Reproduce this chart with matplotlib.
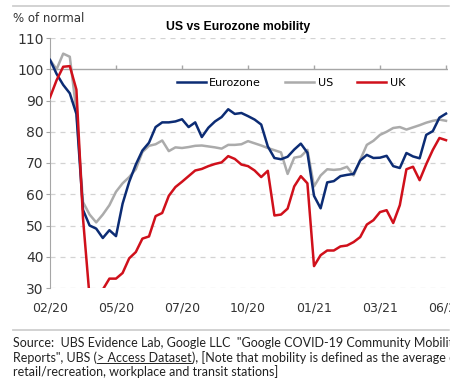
import numpy as np
import matplotlib
matplotlib.use("Agg")
import matplotlib.pyplot as plt
from matplotlib.lines import Line2D
from matplotlib.patches import Rectangle

# observation index (every 2nd trading day), tick every 20
idx = np.arange(0, 121, 2)
tick_pos = [0, 20, 40, 60, 80, 100, 120]
tick_lbl = ["02/20", "05/20", "07/20", "10/20", "01/21", "03/21", "06/21"]

eurozone = [103, 98.5, 95, 92.3, 85.7, 55, 50, 49, 46, 48.5,
            46.6, 57, 64, 69.5, 74, 76.5, 81.5, 83, 83, 83.3,
            84, 81.5, 83, 78.3, 81.3, 83.3, 84.7, 87.2, 85.7, 86,
            85, 83.9, 82.3, 75.3, 71.6, 71.2, 72, 74.3, 76.2, 73.3,
            59.5, 55.5, 63.8, 64.2, 65.8, 66.2, 66.5, 70.8, 72.6, 71.6,
            71.7, 72.3, 69, 68.4, 73.2, 72.1, 71.5, 79, 80.2, 84.5,
            85.8]
us = [103, 100, 105, 104, 86.5, 57.5, 53.5, 51, 53.5, 56.5,
      60.8, 63.5, 65.5, 68, 73.5, 75.5, 76, 77.2, 73.8, 75,
      74.8, 75.1, 75.5, 75.6, 75.3, 75, 74.6, 75.8, 75.8, 76,
      77, 76.3, 75.6, 74.8, 74.1, 73.4, 66.5, 71.7, 72.1, 74.2,
      62.5, 66, 68, 67.8, 68, 68.8, 66, 71, 75.8, 77.1,
      79, 80, 81.2, 81.5, 80.7, 81.4, 82.1, 82.9, 83.5, 83.9,
      83.5]
uk = [91, 96.5, 100.8, 101, 93.5, 52.3, 27, 24, 29.5, 33,
      33, 34.8, 39.5, 41.5, 45.8, 46.5, 53, 54, 59.5, 62.3,
      64, 65.8, 67.6, 68.1, 69, 69.7, 70.2, 72.2, 71.3, 69.5,
      69, 67.6, 65.5, 67.5, 53.2, 53.5, 55.4, 62.5, 65.8, 63.5,
      37, 40.5, 42, 42, 43.3, 43.6, 44.7, 46.3, 50.3, 51.7,
      54.3, 54.9, 50.8, 56.5, 68, 68.8, 64.5, 69.6, 74.2, 78,
      77.3]

W, H = 468, 382
fig = plt.figure(figsize=(W / 100, H / 100), dpi=100)
ax = fig.add_axes([50 / W, 1 - 288 / H, 398 / W, 250 / H])

c_ez, c_us, c_uk = "#0c2c74", "#ababab", "#d0101b"
l_us, = ax.plot(idx, us, color=c_us, lw=1.8, zorder=3)
l_ez, = ax.plot(idx, eurozone, color=c_ez, lw=1.8, zorder=4)
l_uk, = ax.plot(idx, uk, color=c_uk, lw=1.8, zorder=5)

ax.set_xlim(0, 120.6)
ax.set_ylim(30, 110)
ax.set_yticks(range(30, 111, 10))
ax.set_xticks(tick_pos)
ax.set_xticklabels(tick_lbl)
for v in range(30, 111, 10):
    if v != 100:
        ax.axhline(v, color="#d3d3d3", lw=0.9, ls=(0, (4, 4)), zorder=1)
ax.axhline(100, color="#a6a6a6", lw=1.0, zorder=2)
ax.vlines(tick_pos[1:], 100, 101.3, color="#a6a6a6", lw=1.0, zorder=2)

for s in ["top", "right", "bottom"]:
    ax.spines[s].set_visible(False)
ax.spines["left"].set_color("#a6a6a6")
ax.tick_params(axis="x", length=0, pad=10, labelsize=9, labelcolor="#333333")
ax.tick_params(axis="y", length=3, pad=1.5, color="#a6a6a6", labelsize=10,
               labelcolor="#333333")

ax.legend([l_ez, l_us, l_uk], ["Eurozone", "US", "UK"], ncol=3, frameon=False,
          loc="center left", bbox_to_anchor=(0.305, 0.821), borderpad=0,
          fontsize=8, handlelength=2.6, handletextpad=0.3, columnspacing=2.2)

fig.text(238.5 / W, 1 - 27 / H, "US vs Eurozone mobility", ha="center",
         va="center", fontsize=8.8, fontweight="bold", family="Liberation Sans")
fig.text(13 / W, 1 - 18 / H, "% of normal", ha="left", va="center",
         fontsize=8.5, color="#333333")

fig.add_artist(Line2D([13 / W, 449 / W], [1 - 6 / H, 1 - 6 / H],
                      color="#cfcfcf", lw=1.3))
fig.add_artist(Line2D([13 / W, 449 / W], [1 - 330 / H, 1 - 330 / H],
                      color="#cfcfcf", lw=1.3))

# source note, with underlined link text
src_kw = dict(fontsize=9, family="Lato", color="#222222", va="baseline")
fig.text(13 / W, 1 - 347 / H,
         'Source:  UBS Evidence Lab, Google LLC  "Google COVID-19 Community Mobility',
         **src_kw)
fig.text(13 / W, 1 - 376 / H, "retail/recreation, workplace and transit stations]",
         **src_kw)
fig.canvas.draw()
r = fig.canvas.get_renderer()
yb = 1 - 361.5 / H
t1 = fig.text(13 / W, yb, 'Reports", UBS (', **src_kw)
b1 = t1.get_window_extent(r)
t2 = fig.text(b1.x1 / W, yb, "> Access Dataset", **src_kw)
b2 = t2.get_window_extent(r)
fig.add_artist(Line2D([b2.x0 / W, b2.x1 / W], [yb - 1.5 / H, yb - 1.5 / H],
                      color="#222222", lw=0.7))
fig.text(b2.x1 / W, yb, "), [Note that mobility is defined as the average of",
         **src_kw)

# the original graphic is cut off at the right edge
fig.add_artist(Rectangle((450 / W, 0), 1, 1, transform=fig.transFigure,
                         color="white", zorder=20))

fig.savefig("out.png", dpi=100)
